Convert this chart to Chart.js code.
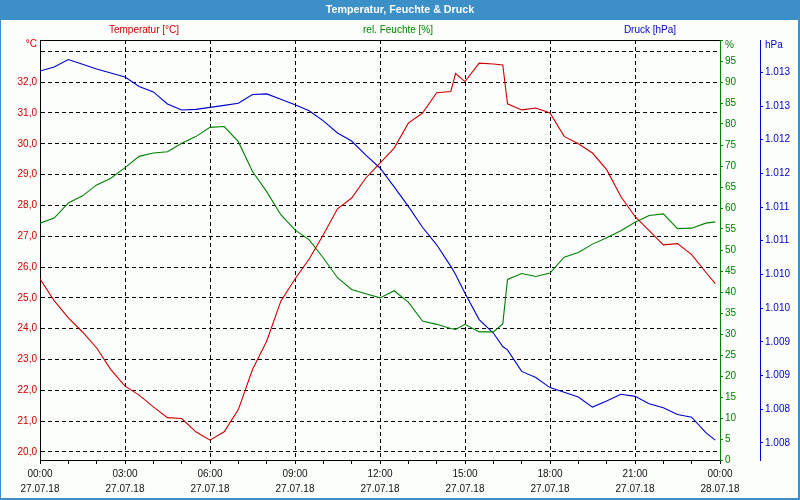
<!DOCTYPE html>
<html>
<head>
<meta charset="utf-8">
<title>Temperatur, Feuchte & Druck</title>
<script src="https://cdn.jsdelivr.net/npm/chart.js@4.4.1/dist/chart.umd.min.js"></script>
<style>
  html, body { margin: 0; padding: 0; background: #fcfefc; }
  #chart { display: block; }
</style>
</head>
<body>
<canvas id="chart" width="800" height="500"></canvas>
<script>
'use strict';
// measured every 30 min, a few extra points where it jumps (last one at 23:50)
var times = ['00:00', '00:30', '01:00', '01:30', '02:00', '02:30', '03:00', '03:30', '04:00', '04:30',
  '05:00', '05:30', '06:00', '06:30', '07:00', '07:30', '08:00', '08:30', '09:00', '09:30',
  '10:00', '10:30', '11:00', '11:30', '12:00', '12:30', '13:00', '13:30', '14:00', '14:30', '14:40',
  '15:00', '15:30', '16:00', '16:20', '16:30', '17:00', '17:30', '18:00', '18:30', '19:00', '19:30',
  '20:00', '20:30', '21:00', '21:30', '22:00', '22:30', '23:00', '23:30', '23:50'];

var temperatur = [25.61, 24.91, 24.35, 23.89, 23.37, 22.67, 22.13, 21.84, 21.46, 21.11,
  21.08, 20.65, 20.38, 20.65, 21.37, 22.67, 23.59, 24.89, 25.61, 26.26,
  27.05, 27.89, 28.24, 28.89, 29.37, 29.86, 30.67, 31.00, 31.66, 31.70, 32.28,
  32.02, 32.62, 32.59, 32.56, 31.30, 31.10, 31.16, 31.00, 30.24, 30.00, 29.70,
  29.16, 28.29, 27.64, 27.18, 26.72, 26.76, 26.40, 25.83, 25.46];

var feuchte = [56.4, 57.6, 61.2, 62.9, 65.5, 67.1, 69.6, 72.3, 73.1, 73.4,
  75.4, 77.0, 79.2, 79.4, 75.8, 68.7, 63.9, 58.4, 54.8, 52.4,
  48.1, 43.4, 40.6, 39.6, 38.6, 40.3, 37.6, 33.1, 32.3, 31.3, 31.1,
  32.3, 30.5, 30.5, 32.4, 43.0, 44.4, 43.7, 44.5, 48.3, 49.4, 51.4,
  52.9, 54.6, 56.6, 58.2, 58.6, 55.1, 55.2, 56.4, 56.7];

var druck = [1013.02, 1013.08, 1013.19, 1013.12, 1013.05, 1012.99, 1012.93, 1012.79, 1012.71, 1012.53,
  1012.44, 1012.45, 1012.48, 1012.51, 1012.54, 1012.67, 1012.68, 1012.60, 1012.52, 1012.43,
  1012.28, 1012.10, 1011.98, 1011.77, 1011.58, 1011.30, 1011.01, 1010.70, 1010.44, 1010.12, 1010.00,
  1009.72, 1009.33, 1009.13, 1008.93, 1008.88, 1008.56, 1008.47, 1008.32, 1008.25, 1008.18, 1008.03,
  1008.12, 1008.22, 1008.19, 1008.08, 1008.02, 1007.92, 1007.88, 1007.65, 1007.54];

// tick labels
var tempTicks = [20, 21, 22, 23, 24, 25, 26, 27, 28, 29, 30, 31, 32, 33];
var feuchteTicks = [0, 5, 10, 15, 20, 25, 30, 35, 40, 45, 50, 55, 60, 65, 70, 75, 80, 85, 90, 95, 100];
var druckTicks = [1007.5, 1008, 1008.5, 1009, 1009.5, 1010, 1010.5, 1011, 1011.5, 1012, 1012.5, 1013];
var xTimeLabels = ['00:00', '03:00', '06:00', '09:00', '12:00', '15:00', '18:00', '21:00', '00:00'];
var xDateLabels = ['27.07.18', '27.07.18', '27.07.18', '27.07.18', '27.07.18', '27.07.18', '27.07.18', '27.07.18', '28.07.18'];

var rot = '#cc0000';
var gruen = '#008000';
var blau = '#0000cc';
var rahmen = '#3d8fc7';

function toHours(t) {
  var p = t.split(':');
  return parseInt(p[0], 10) + parseInt(p[1], 10) / 60;
}

function points(values) {
  var arr = [];
  for (var i = 0; i < times.length; i++) {
    arr.push({ x: toHours(times[i]), y: values[i] });
  }
  return arr;
}

function setTicks(list) {
  return function (scale) {
    scale.ticks = list.map(function (v) { return { value: v }; });
  };
}

// bar with title, frame, unit labels, series names
var framePlugin = {
  id: 'frame',
  beforeDraw: function (chart) {
    var ctx = chart.ctx;
    ctx.save();
    ctx.fillStyle = '#fcfefc';
    ctx.fillRect(0, 0, chart.width, chart.height);
    ctx.restore();
  },
  afterDraw: function (chart) {
    var ctx = chart.ctx;
    var area = chart.chartArea;
    ctx.save();
    ctx.fillStyle = rahmen;
    ctx.fillRect(0, 0, chart.width, 20);
    ctx.fillRect(0, 0, 1, chart.height);
    ctx.fillRect(chart.width - 2, 0, 2, chart.height);
    ctx.fillRect(0, chart.height - 2, chart.width, 2);

    ctx.fillStyle = '#ffffff';
    ctx.font = 'bold 10.7px "Liberation Sans", Arial, sans-serif';
    ctx.textAlign = 'center';
    ctx.textBaseline = 'middle';
    ctx.fillText('Temperatur, Feuchte & Druck', chart.width / 2, 10);

    // top edge of the plot
    ctx.strokeStyle = '#000';
    ctx.lineWidth = 1;
    ctx.beginPath();
    ctx.moveTo(area.left, Math.round(area.top) + 0.5);
    ctx.lineTo(area.right, Math.round(area.top) + 0.5);
    ctx.stroke();

    ctx.font = '10px "Liberation Sans", Arial, sans-serif';
    var centers = [144, 398, 650];
    chart.data.datasets.forEach(function (ds, i) {
      ctx.fillStyle = ds.borderColor;
      ctx.fillText(ds.label, centers[i], 30);
    });

    ctx.textAlign = 'right';
    ctx.fillStyle = rot;
    ctx.fillText('°C', 37, 44);
    ctx.textAlign = 'left';
    ctx.fillStyle = gruen;
    ctx.fillText('%', 725, 45);
    ctx.fillStyle = blau;
    ctx.fillText('hPa', 765, 45);
    ctx.restore();
  }
};

Chart.defaults.font.family = '"Liberation Sans", Arial, sans-serif';
Chart.defaults.font.size = 10;

var ctx = document.getElementById('chart').getContext('2d');
var chart = new Chart(ctx, {
  type: 'line',
  data: {
    datasets: [{
      label: 'Temperatur [°C]',
      data: points(temperatur),
      borderColor: rot,
      yAxisID: 'yT'
    }, {
      label: 'rel. Feuchte [%]',
      data: points(feuchte),
      borderColor: gruen,
      yAxisID: 'yH'
    }, {
      label: 'Druck [hPa]',
      data: points(druck),
      borderColor: blau,
      yAxisID: 'yP'
    }]
  },
  options: {
    responsive: false,
    animation: false,
    devicePixelRatio: 1,
    layout: { padding: { top: 40, left: 0, right: 0, bottom: 0 } },
    plugins: {
      legend: { display: false },
      tooltip: { enabled: false }
    },
    elements: {
      point: { radius: 0 },
      line: { borderWidth: 1.1, tension: 0, fill: false }
    },
    scales: {
      x: {
        type: 'linear',
        min: 0,
        max: 24,
        afterFit: function (s) { s.height = 40; },
        afterBuildTicks: function (s) {
          var t = [];
          for (var h = 0; h <= 24; h++) t.push({ value: h });
          s.ticks = t;
        },
        ticks: {
          autoSkip: false,
          maxRotation: 0,
          padding: 3,
          color: '#111',
          font: { size: 10, lineHeight: 1.45 },
          callback: function (v) {
            if (v % 3 !== 0) return '';
            return [xTimeLabels[v / 3], xDateLabels[v / 3]];
          }
        },
        grid: {
          color: function (c) {
            var v = c.tick ? c.tick.value : 0;
            return (v % 3 === 0 && v > 0 && v < 24) ? '#000' : 'rgba(0,0,0,0)';
          },
          tickColor: '#000',
          tickLength: 4
        },
        border: { color: '#000', width: 1, dash: [4, 3] }
      },
      yT: {
        position: 'left',
        min: 19.734,
        max: 33.37,
        afterFit: function (s) { s.width = 40; },
        afterBuildTicks: setTicks(tempTicks),
        ticks: {
          color: rot,
          padding: 3,
          callback: function (v) {
            if (v === 33) return '';
            return v.toFixed(1).replace('.', ',');
          }
        },
        grid: { color: '#000', drawTicks: false },
        border: { color: '#000', width: 1, dash: [4, 3] }
      },
      yH: {
        position: 'right',
        weight: 0,
        min: 0,
        max: 100,
        afterFit: function (s) { s.width = 40; },
        afterBuildTicks: setTicks(feuchteTicks),
        ticks: {
          color: gruen,
          padding: 2,
          callback: function (v) { return v === 100 ? '' : String(v); }
        },
        grid: { drawOnChartArea: false, tickColor: gruen, tickLength: 3 },
        border: { color: gruen, width: 1 }
      },
      yP: {
        position: 'right',
        weight: 1,
        min: 1007.245,
        max: 1013.48,
        afterFit: function (s) { s.width = 40; },
        afterBuildTicks: setTicks(druckTicks),
        ticks: {
          color: blau,
          padding: 2,
          callback: function (v) {
            var r = Math.round(v);
            return Math.floor(r / 1000) + '.' + String(r % 1000).padStart(3, '0');
          }
        },
        grid: { drawOnChartArea: false, tickColor: blau, tickLength: 3 },
        border: { color: blau, width: 1 }
      }
    }
  },
  plugins: [framePlugin]
});
</script>
</body>
</html>
